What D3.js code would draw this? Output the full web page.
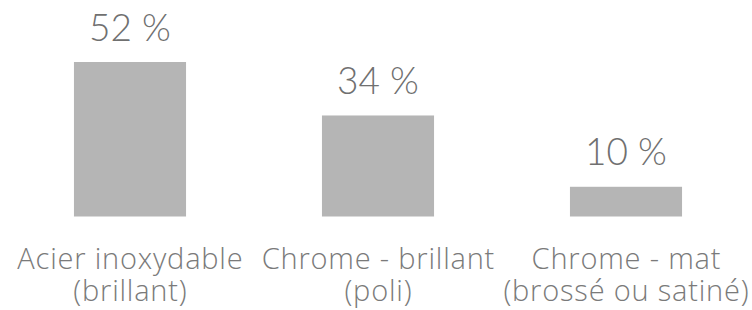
<!DOCTYPE html>
<html>
<head>
<meta charset="utf-8">
<script src="https://cdn.jsdelivr.net/npm/d3@7"></script>
<style>
  html, body { margin: 0; padding: 0; background: #fff; }
  svg { display: block; }
  text { font-weight: 300; }
</style>
</head>
<body>
<svg id="chart" width="752" height="310"></svg>
<script>
const categoriesLine1 = ["Acier inoxydable", "Chrome - brillant", "Chrome - mat"];
const categoriesLine2 = ["(brillant)", "(poli)", "(brossé ou satiné)"];
const values = [52, 34, 10];
const valueLabels = ["52 %", "34 %", "10 %"];

const W = 752, H = 310;
const baseY = 216.5, topY = 62;

const svg = d3.select("#chart");
const idx = values.map((_, i) => i);

const x = d3.scaleBand().domain(idx).range([6, 750]).paddingInner(0.548).paddingOuter(0.274);
const y = d3.scaleLinear().domain([0, d3.max(values)]).range([baseY, topY]);
const cx = i => x(i) + x.bandwidth() / 2;

svg.selectAll("rect.bar").data(idx).join("rect")
  .attr("class", "bar")
  .attr("x", i => x(i))
  .attr("y", i => y(values[i]))
  .attr("width", x.bandwidth())
  .attr("height", i => baseY - y(values[i]))
  .attr("fill", "#b5b5b5");

svg.selectAll("text.val").data(idx).join("text")
  .attr("class", "val")
  .attr("x", cx)
  .attr("y", i => y(values[i]) - 21.5)
  .attr("text-anchor", "middle")
  .attr("font-family", "Lato, sans-serif")
  .attr("font-size", 37)
  .attr("fill", "#707070")
  .text(i => valueLabels[i]);

function catLine(cls, arr, yPos) {
  svg.selectAll("text." + cls).data(idx).join("text")
    .attr("class", cls)
    .attr("x", i => cx(i) + 0.4)
    .attr("y", yPos)
    .attr("text-anchor", "middle")
    .attr("font-family", "'Open Sans', sans-serif")
    .attr("font-size", 29)
    .attr("letter-spacing", 0.8)
    .attr("fill", "#7a7a7a")
    .text(i => arr[i]);
}
catLine("cat1", categoriesLine1, 268.5);
catLine("cat2", categoriesLine2, 300.5);
</script>
</body>
</html>
